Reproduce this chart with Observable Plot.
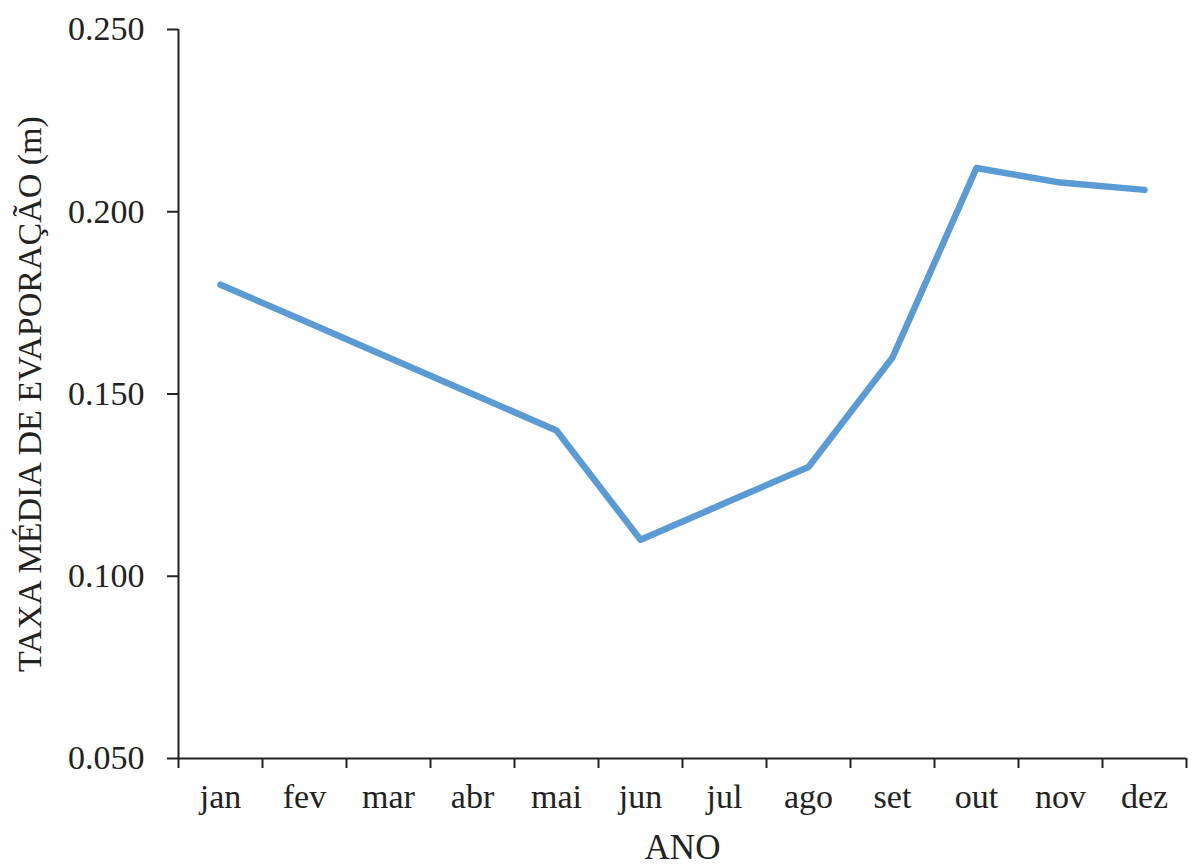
<!DOCTYPE html>
<html>
<head>
<meta charset="utf-8">
<script src="https://cdn.jsdelivr.net/npm/d3@7"></script>
<script src="https://cdn.jsdelivr.net/npm/@observablehq/plot@0.6"></script>
<style>
  html, body { margin: 0; padding: 0; background: #fff; }
  #chart { width: 1200px; height: 867px; }
</style>
</head>
<body>
<div id="chart"></div>
<script>
const months = ["jan", "fev", "mar", "abr", "mai", "jun", "jul", "ago", "set", "out", "nov", "dez"];
const evaporation = [0.180, 0.170, 0.160, 0.150, 0.140, 0.110, 0.120, 0.130, 0.160, 0.212, 0.208, 0.206];
const yTicks = [0.050, 0.100, 0.150, 0.200, 0.250];
const yLabel = "TAXA MÉDIA DE EVAPORAÇÃO (m)";
const xLabel = "ANO";

const data = months.map((m, i) => ({month: m, idx: i + 0.5, value: evaporation[i]}));
const boundaries = d3.range(months.length + 1);
const centers = months.map((m, i) => i + 0.5);

const font = "'Liberation Serif', 'Times New Roman', serif";

const chart = Plot.plot({
  width: 1200,
  height: 867,
  marginLeft: 178,
  marginRight: 14,
  marginTop: 29,
  marginBottom: 109,
  style: {fontFamily: font, color: "#222", background: "#fff"},
  x: {type: "linear", domain: [0, months.length]},
  y: {domain: [0.05, 0.25]},
  marks: [
    Plot.ruleY([0.05], {x1: 0, x2: months.length, stroke: "#222", strokeWidth: 2}),
    Plot.ruleX([0], {y1: 0.05, y2: 0.25, stroke: "#222", strokeWidth: 2}),
    Plot.axisY({ticks: yTicks, tickFormat: d3.format(".3f"), tickSize: 11, tickPadding: 23, fontSize: 34, stroke: "#222", strokeWidth: 2, label: null}),
    Plot.axisX({ticks: boundaries, tickFormat: () => "", tickSize: 10, stroke: "#222", strokeWidth: 2, label: null}),
    Plot.axisX({ticks: centers, tickFormat: d => months[Math.round(d - 0.5)], tickSize: 0, tickPadding: 25, fontSize: 34, label: null}),
    Plot.text([xLabel], {frameAnchor: "bottom", dy: 100, text: d => d, fontSize: 35, fill: "#222"}),
    Plot.text([yLabel], {frameAnchor: "left", textAnchor: "middle", dx: -148, rotate: -90, text: d => d, fontSize: 34, fill: "#222"}),
    Plot.line(data, {x: "idx", y: "value", stroke: "#5B9BD5", strokeWidth: 6.5, strokeLinejoin: "round", strokeLinecap: "round"})
  ]
});
document.getElementById("chart").appendChild(chart);
</script>
</body>
</html>
